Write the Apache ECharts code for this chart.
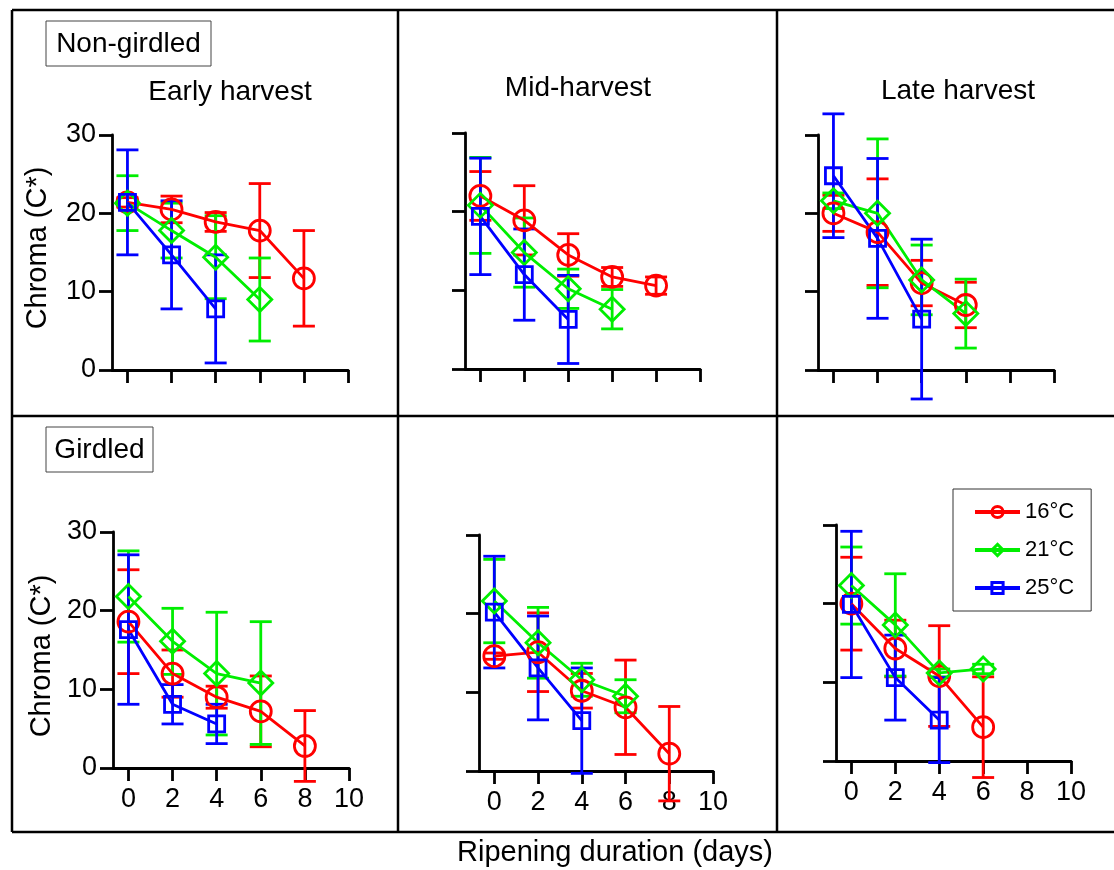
<!DOCTYPE html>
<html><head><meta charset="utf-8">
<script src="https://cdn.jsdelivr.net/npm/echarts@6/dist/echarts.min.js"></script>
<style>html,body{margin:0;padding:0;background:#fff}#c{width:1114px;height:870px}</style>
</head><body><div id="c"></div>
<script>
// ---------- data ----------
const days = [0, 2, 4, 6, 8];
const xTicks = [0, 2, 4, 6, 8, 10];
const temps = ['16°C', '21°C', '25°C'];
const panelTitles = ['Early harvest', 'Mid-harvest', 'Late harvest'];
const rowLabels = ['Non-girdled', 'Girdled'];
const yTitle = 'Chroma (C*)';
const xTitle = 'Ripening duration (days)';

// Non-girdled, early harvest
const ngEarly16 = [21.4, 20.5, 18.9, 17.8, 11.7];
const ngEarly16Err = [0.6, 1.7, 1.2, 6.0, 6.1];
const ngEarly21 = [21.3, 17.8, 14.4, 9.0];
const ngEarly21Err = [3.5, 3.5, 5.3, 5.3];
const ngEarly25 = [21.4, 14.7, 7.8];
const ngEarly25Err = [6.7, 6.9, 6.9];
// Non-girdled, mid-harvest
const ngMid16 = [22.0, 18.9, 14.5, 11.7, 10.6];
const ngMid16Err = [3.1, 4.4, 2.7, 1.2, 1.1];
const ngMid21 = [20.8, 14.8, 10.2, 7.6];
const ngMid21Err = [6.1, 4.4, 2.5, 2.5];
const ngMid25 = [19.4, 12.0, 6.3];
const ngMid25Err = [7.4, 5.8, 5.6];
// Non-girdled, late harvest
const ngLate16 = [20.0, 17.6, 11.1, 8.3];
const ngLate16Err = [2.3, 6.8, 2.9, 2.9];
const ngLate21 = [21.6, 20.0, 11.5, 7.2];
const ngLate21Err = [1.0, 9.5, 4.45, 4.4];
const ngLate25 = [24.8, 16.8, 6.5];
const ngLate25Err = [7.9, 10.2, 10.2];
// Girdled, early harvest
const gEarly16 = [18.6, 12.0, 9.0, 7.2, 2.8];
const gEarly16Err = [6.6, 3.0, 1.4, 4.5, 4.5];
const gEarly21 = [21.8, 16.1, 12.0, 10.8];
const gEarly21Err = [5.8, 4.2, 7.8, 7.8];
const gEarly25 = [17.6, 8.1, 5.6];
const gEarly25Err = [9.5, 2.5, 2.5];
// Girdled, mid-harvest
const gMid16 = [14.6, 15.1, 10.2, 8.1, 2.2];
const gMid16Err = [0.4, 5.0, 2.2, 6.0, 6.0];
const gMid21 = [21.6, 16.3, 11.6, 9.5];
const gMid21Err = [5.3, 4.5, 2.1, 2.1];
const gMid25 = [20.2, 13.1, 6.4];
const gMid25Err = [7.1, 6.6, 6.7];
// Girdled, late harvest
const gLate16 = [20.0, 14.3, 10.8, 4.3];
const gLate16Err = [5.9, 3.6, 6.4, 6.4];
const gLate21 = [22.3, 17.3, 11.2, 11.7];
const gLate21Err = [4.9, 6.5, 0.5, 0.6];
const gLate25 = [19.9, 10.6, 5.2];
const gLate25Err = [9.3, 5.4, 5.4];

// ---------- layout ----------
const FONT = 'Liberation Sans, Arial, Helvetica, sans-serif';
const colors = ['#ff0000', '#00ee00', '#0000ff'];
const symbols = ['circle', 'diamond', 'rect'];
const symbolSizes = [21, 24, 16];

const panels = [
  { means: [ngEarly16, ngEarly21, ngEarly25], errs: [ngEarly16Err, ngEarly21Err, ngEarly25Err] },
  { means: [ngMid16, ngMid21, ngMid25], errs: [ngMid16Err, ngMid21Err, ngMid25Err] },
  { means: [ngLate16, ngLate21, ngLate25], errs: [ngLate16Err, ngLate21Err, ngLate25Err] },
  { means: [gEarly16, gEarly21, gEarly25], errs: [gEarly16Err, gEarly21Err, gEarly25Err] },
  { means: [gMid16, gMid21, gMid25], errs: [gMid16Err, gMid21Err, gMid25Err] },
  { means: [gLate16, gLate21, gLate25], errs: [gLate16Err, gLate21Err, gLate25Err] }
];
const gridPos = [
  { left: 112, top: 135, width: 236, height: 235 },
  { left: 465, top: 133, width: 235, height: 236 },
  { left: 818, top: 135, width: 236, height: 235 },
  { left: 113, top: 532, width: 236, height: 236 },
  { left: 479, top: 535, width: 234, height: 236 },
  { left: 836, top: 525, width: 235, height: 236 }
];

const axisLineStyle = { color: '#000', width: 2.8 };
const grid = [], xAxis = [], yAxis = [], lineSeries = [], errSeries = [];

panels.forEach((p, i) => {
  const row = Math.floor(i / 3), col = i % 3;
  grid.push(Object.assign({ containLabel: false }, gridPos[i]));
  xAxis.push({
    gridIndex: i, type: 'value', min: -0.7, max: 10,
    axisLine: { show: true, onZero: false, lineStyle: axisLineStyle },
    axisTick: { show: true, length: 13, lineStyle: axisLineStyle, customValues: xTicks },
    axisLabel: { show: row === 1, customValues: xTicks, fontSize: 27, color: '#000', fontFamily: FONT, margin: 18 },
    splitLine: { show: false }
  });
  yAxis.push({
    gridIndex: i, type: 'value', min: 0, max: 30, interval: 10,
    axisLine: { show: true, onZero: false, lineStyle: axisLineStyle },
    axisTick: { show: true, length: 13, lineStyle: axisLineStyle },
    axisLabel: { show: col === 0, fontSize: 27, color: '#000', fontFamily: FONT, margin: 16 },
    splitLine: { show: false }
  });
  p.means.forEach((m, t) => {
    const c = colors[t];
    const e = p.errs[t];
    errSeries.push({
      type: 'custom', name: temps[t] + ' err', xAxisIndex: i, yAxisIndex: i,
      clip: false, silent: true, z: 2,
      data: m.map((v, k) => [days[k], v - e[k], v + e[k]]),
      renderItem: function (params, api) {
        const x = api.value(0);
        const top = api.coord([x, api.value(2)]);
        const bot = api.coord([x, api.value(1)]);
        const hw = 11;
        const st = { stroke: c, lineWidth: 2.8, fill: null };
        return {
          type: 'group', children: [
            { type: 'line', shape: { x1: top[0], y1: top[1], x2: bot[0], y2: bot[1] }, style: st },
            { type: 'line', shape: { x1: top[0] - hw, y1: top[1], x2: top[0] + hw, y2: top[1] }, style: st },
            { type: 'line', shape: { x1: bot[0] - hw, y1: bot[1], x2: bot[0] + hw, y2: bot[1] }, style: st }
          ]
        };
      }
    });
    lineSeries.push({
      type: 'line', name: temps[t], xAxisIndex: i, yAxisIndex: i,
      data: m.map((v, k) => [days[k], v]),
      symbol: symbols[t], symbolSize: symbolSizes[t], showSymbol: true,
      color: c, silent: true, z: 3, clip: false,
      lineStyle: { color: c, width: 2.8 },
      itemStyle: { color: 'rgba(255,255,255,0)', borderColor: c, borderWidth: 2.8 },
      emphasis: { disabled: true }
    });
  });
});

// frame and text graphics
const frameStyle = { stroke: '#000', lineWidth: 2.5 };
const graphic = [
  { type: 'line', shape: { x1: 12, y1: 10, x2: 1114, y2: 10 }, style: frameStyle },
  { type: 'line', shape: { x1: 12, y1: 416, x2: 1114, y2: 416 }, style: frameStyle },
  { type: 'line', shape: { x1: 12, y1: 832, x2: 1114, y2: 832 }, style: frameStyle },
  { type: 'line', shape: { x1: 12, y1: 10, x2: 12, y2: 832 }, style: frameStyle },
  { type: 'line', shape: { x1: 398, y1: 10, x2: 398, y2: 832 }, style: frameStyle },
  { type: 'line', shape: { x1: 777, y1: 10, x2: 777, y2: 832 }, style: frameStyle },
  { type: 'rect', shape: { x: 46, y: 21, width: 165, height: 45 }, style: { fill: '#fff', stroke: '#444', lineWidth: 1 } },
  { type: 'text', x: 128.5, y: 44, style: { text: rowLabels[0], font: '28px ' + FONT, fill: '#000', align: 'center', verticalAlign: 'middle' } },
  { type: 'rect', shape: { x: 46, y: 427, width: 107, height: 45 }, style: { fill: '#fff', stroke: '#444', lineWidth: 1 } },
  { type: 'text', x: 99.5, y: 450, style: { text: rowLabels[1], font: '28px ' + FONT, fill: '#000', align: 'center', verticalAlign: 'middle' } },
  { type: 'text', x: 230, y: 92, style: { text: panelTitles[0], font: '28px ' + FONT, fill: '#000', align: 'center', verticalAlign: 'middle' } },
  { type: 'text', x: 578, y: 88, style: { text: panelTitles[1], font: '28px ' + FONT, fill: '#000', align: 'center', verticalAlign: 'middle' } },
  { type: 'text', x: 958, y: 91, style: { text: panelTitles[2], font: '28px ' + FONT, fill: '#000', align: 'center', verticalAlign: 'middle' } },
  { type: 'text', x: 38, y: 248, rotation: Math.PI / 2, style: { text: yTitle, font: '29px ' + FONT, fill: '#000', align: 'center', verticalAlign: 'middle' } },
  { type: 'text', x: 42, y: 656, rotation: Math.PI / 2, style: { text: yTitle, font: '29px ' + FONT, fill: '#000', align: 'center', verticalAlign: 'middle' } },
  { type: 'text', x: 615, y: 853, style: { text: xTitle, font: '29px ' + FONT, fill: '#000', align: 'center', verticalAlign: 'middle' } }
];

const chart = echarts.init(document.getElementById('c'), null, { renderer: 'canvas' });
chart.setOption({
  animation: false,
  backgroundColor: '#fff',
  grid, xAxis, yAxis,
  legend: {
    data: temps, orient: 'vertical', left: 953, top: 489,
    padding: [12, 17, 12, 20], itemWidth: 45, itemHeight: 14, itemGap: 16, itemTextGap: 15,
    borderColor: '#333', borderWidth: 1, backgroundColor: '#fff', selectedMode: false,
    lineStyle: { width: 4 },
    itemStyle: { borderWidth: 3 },
    textStyle: { fontSize: 22, color: '#000', fontFamily: FONT }
  },
  graphic,
  series: errSeries.concat(lineSeries)
});
</script>
</body></html>
